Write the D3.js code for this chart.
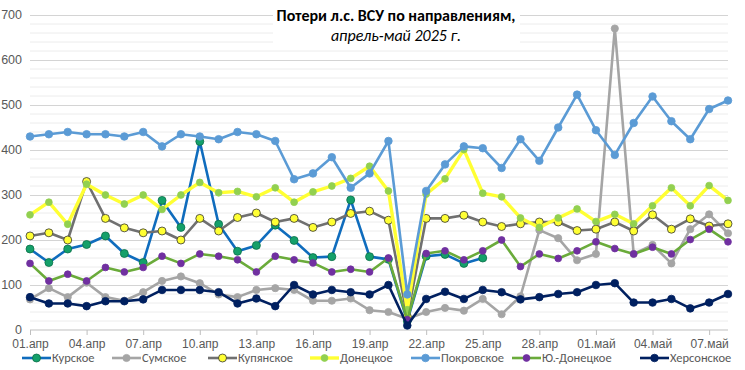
<!DOCTYPE html>
<html>
<head>
<meta charset="utf-8">
<script src="https://cdn.jsdelivr.net/npm/d3@7"></script>
<style>
  body { margin: 0; background: #fff; }
  svg { font-family: Carlito, Calibri, "Open Sans", sans-serif; }
</style>
</head>
<body>
<div id="chart"></div>
<script>
var dates = ["01.апр","02.апр","03.апр","04.апр","05.апр","06.апр","07.апр","08.апр","09.апр","10.апр",
  "11.апр","12.апр","13.апр","14.апр","15.апр","16.апр","17.апр","18.апр","19.апр","20.апр",
  "21.апр","22.апр","23.апр","24.апр","25.апр","26.апр","27.апр","28.апр","29.апр","30.апр",
  "01.май","02.май","03.май","04.май","05.май","06.май","07.май","08.май"];
var tickLabels = ["01.апр","04.апр","07.апр","10.апр","13.апр","16.апр","19.апр","22.апр","25.апр","28.апр","01.май","04.май","07.май"];
var yTicks = [0,100,200,300,400,500,600,700];

var kursk = [180,150,180,190,209,170,150,288,228,419,235,175,188,233,199,161,163,289,163,157,20,164,168,148,160,
  null,null,null,null,null,null,null,null,null,null,null,null,null];
var sumy = [68,93,73,105,73,65,84,109,119,104,79,73,89,93,89,65,65,70,44,40,25,40,49,43,69,35,75,222,204,155,169,670,169,189,148,224,257,215];
var kupyansk = [209,216,200,330,248,227,216,220,200,248,220,250,260,240,248,228,240,259,264,244,30,248,248,255,240,230,236,240,240,221,224,240,220,256,224,247,231,236];
var donetsk = [256,284,235,324,300,280,300,268,300,328,305,308,296,316,284,307,320,337,364,309,45,302,336,401,304,296,249,228,249,269,241,257,236,276,316,276,321,288];
var pokrovsk = [430,435,440,435,435,430,440,408,435,430,424,440,435,420,335,348,384,316,348,420,79,309,368,408,404,360,424,376,450,523,444,389,460,519,464,424,491,510];
var yuzhDonetsk = [148,109,124,109,139,129,139,164,148,169,164,156,129,164,156,149,129,135,129,160,23,170,176,156,176,200,141,169,159,176,196,181,169,184,169,201,224,196];
var kherson = [73,59,59,53,64,64,68,89,89,89,84,59,70,53,100,79,89,84,79,100,10,69,85,69,89,84,68,73,80,84,100,104,61,61,69,48,61,80];

var series = [
  {name: "Курское", values: kursk, line: "#0f6cbd", fill: "#14a06a", stroke: "#0b6e48", r: 4, w: 2.6},
  {name: "Сумское", values: sumy, line: "#a5a5a5", fill: "#a5a5a5", stroke: "#a5a5a5", r: 3.6, w: 2.6},
  {name: "Купянское", values: kupyansk, line: "#707070", fill: "#ffff33", stroke: "#333", r: 4, w: 2.6},
  {name: "Донецкое", values: donetsk, line: "#ffff33", fill: "#92d050", stroke: "#92d050", r: 3.4, w: 3.4},
  {name: "Покровское", values: pokrovsk, line: "#5b9bd5", fill: "#5b9bd5", stroke: "#5b9bd5", r: 3.8, w: 2.6},
  {name: "Ю.-Донецкое", values: yuzhDonetsk, line: "#6aab3a", fill: "#7030a0", stroke: "#7030a0", r: 3.4, w: 2.6},
  {name: "Херсонское", values: kherson, line: "#002060", fill: "#002060", stroke: "#002060", r: 3.8, w: 2.6}
];

var width = 745, height = 370;
var plotLeft = 30, plotRight = 728, plotTop = 15, plotBottom = 330;

var svg = d3.select("#chart").append("svg")
  .attr("width", width).attr("height", height);

var x = d3.scalePoint().domain(dates).range([plotLeft, plotRight]);
var y = d3.scaleLinear().domain([0, 700]).range([plotBottom, plotTop]);

// minor gridlines every 20
svg.append("g").selectAll("line")
  .data(d3.range(20, 700, 20).filter(v => v % 100 !== 0))
  .enter().append("line")
  .attr("x1", plotLeft).attr("x2", plotRight)
  .attr("y1", d => y(d)).attr("y2", d => y(d))
  .attr("stroke", "#ececec").attr("stroke-width", 1);

svg.append("g")
  .attr("transform", `translate(${plotLeft},0)`)
  .call(d3.axisLeft(y).tickValues(yTicks).tickSize(-(plotRight - plotLeft)).tickPadding(8))
  .call(g => g.select(".domain").remove())
  .call(g => g.selectAll(".tick line").attr("stroke", d => d === 0 ? "none" : "#d4d4d4"))
  .call(g => g.selectAll(".tick text").attr("fill", "#595959").attr("font-size", 12.5).attr("dy", "0.28em"));

svg.append("g")
  .attr("transform", `translate(0,${plotBottom})`)
  .call(d3.axisBottom(x).tickValues(tickLabels).tickSize(5).tickPadding(4))
  .call(g => g.select(".domain").attr("stroke", "#bfbfbf").attr("d", `M${plotLeft},0H${plotRight}`))
  .call(g => g.selectAll(".tick line").attr("stroke", "#bfbfbf"))
  .call(g => g.selectAll(".tick text").attr("fill", "#595959").attr("font-size", 12));

// title on a white box over the gridlines
var tg = svg.append("g");
tg.append("rect").attr("x", 273).attr("y", 6).attr("width", 247).attr("height", 41).attr("fill", "#fff");
tg.append("text").attr("x", 396).attr("y", 20.5).attr("text-anchor", "middle")
  .attr("font-size", 16).attr("font-weight", "bold").attr("fill", "#000")
  .text("Потери л.с. ВСУ по направлениям,");
tg.append("text").attr("x", 396).attr("y", 40.5).attr("text-anchor", "middle")
  .attr("font-size", 16).attr("font-style", "italic").attr("fill", "#000")
  .text("апрель-май 2025 г.");

var line = d3.line()
  .defined(d => d.v != null)
  .x(d => x(d.date)).y(d => y(d.v));

series.forEach(s => {
  var pts = s.values.map((v, i) => ({date: dates[i], v: v}));
  var g = svg.append("g");
  g.append("path").datum(pts)
    .attr("d", line).attr("fill", "none")
    .attr("stroke", s.line).attr("stroke-width", s.w)
    .attr("stroke-linejoin", "round");
  g.selectAll("circle").data(pts.filter(d => d.v != null)).enter().append("circle")
    .attr("cx", d => x(d.date)).attr("cy", d => y(d.v)).attr("r", s.r)
    .attr("fill", s.fill).attr("stroke", s.stroke).attr("stroke-width", 0.8);
});

// legend
var legX = [22, 112, 208, 310, 411, 512, 640];
var leg = svg.append("g").attr("transform", "translate(0,358)");
series.forEach((s, i) => {
  var lg = leg.append("g").attr("transform", `translate(${legX[i]},0)`);
  lg.append("line").attr("x1", 0).attr("x2", 29).attr("y1", 0).attr("y2", 0)
    .attr("stroke", s.line).attr("stroke-width", s.w);
  lg.append("circle").attr("cx", 14.5).attr("cy", 0).attr("r", s.r)
    .attr("fill", s.fill).attr("stroke", s.stroke).attr("stroke-width", 0.8);
  lg.append("text").attr("x", 30).attr("y", 4.2).attr("font-size", 12.5).attr("fill", "#595959")
    .text(s.name);
});
</script>
</body>
</html>
